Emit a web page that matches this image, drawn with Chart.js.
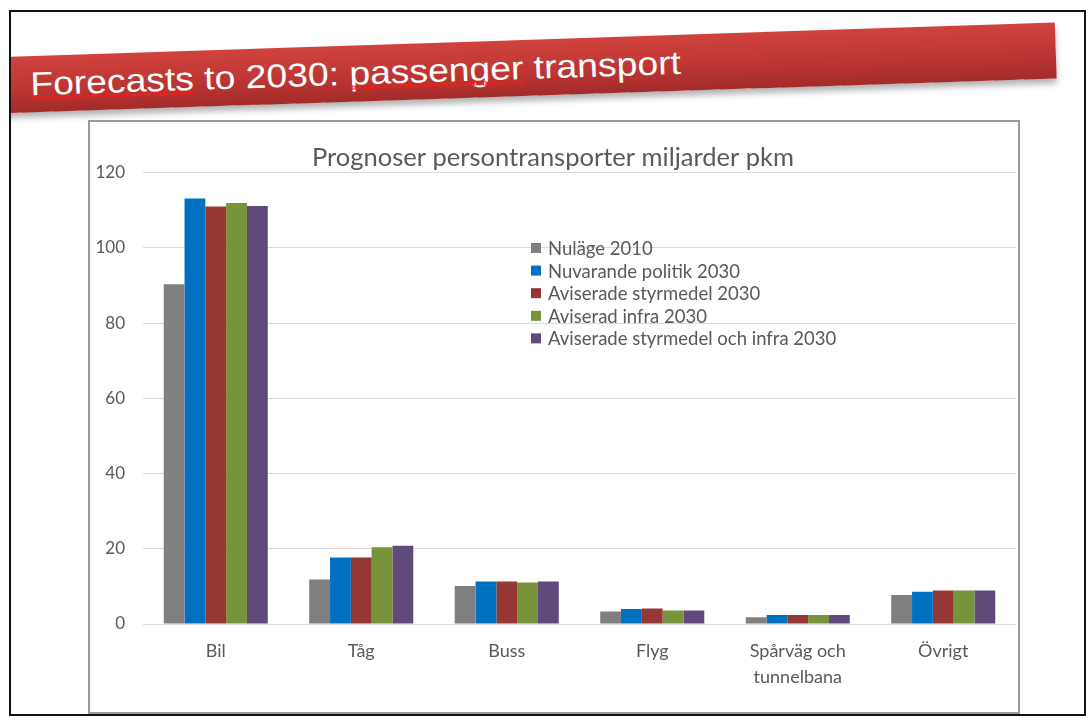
<!DOCTYPE html>
<html>
<head>
<meta charset="utf-8">
<title>Forecasts to 2030: passenger transport</title>
<script src="https://cdn.jsdelivr.net/npm/chart.js@4.4.1/dist/chart.umd.min.js"></script>
<style>
  body { margin: 0; width: 1088px; height: 720px; background: #fff; position: relative; overflow: hidden; }
  #frame { position: absolute; left: 9px; top: 10px; width: 1077px; height: 706px; border: 2px solid #111; box-sizing: border-box; overflow: hidden; background: #fff; }
  #banner { position: absolute; left: -21px; top: 28px; width: 1066px; height: 56px; transform: rotate(-1.887deg);
    background: linear-gradient(#d0423e, #bd3634 55%, #a32b2a); box-shadow: 0 5px 6px rgba(0,0,0,0.3); }
  #banner span.t { position: absolute; left: 40px; top: 11px; font-family: "Liberation Sans", Arial, sans-serif; font-size: 33px; line-height: 33px;
    color: #fff; white-space: nowrap; transform: scaleX(1.13); transform-origin: left top; }
  /* red spell-check squiggle */
  .sp { position: relative; }
  .sp::after { content: ""; position: absolute; left: 0; right: 0; top: 31px; height: 4px;
    background-image: linear-gradient(135deg, transparent 40%, #e3231f 40%, #e3231f 60%, transparent 60%),
                      linear-gradient(45deg, transparent 40%, #e3231f 40%, #e3231f 60%, transparent 60%);
    background-size: 4px 4px; background-repeat: repeat-x; }
  #chartBox { position: absolute; left: 77px; top: 108px; width: 932px; height: 594px; border: 2px solid #999; box-sizing: border-box; background: #fff; }
  #myChart { position: absolute; left: 0; top: 0; }
</style>
</head>
<body>
<div id="frame">
  <div id="banner"><span class="t"><span class="sp">Forecasts</span> to 2030: <span class="sp">passenger</span> transport</span></div>
  <div id="chartBox"><canvas id="myChart" width="928" height="590"></canvas></div>
</div>
<script>
// data
var categories = ['Bil', 'Tåg', 'Buss', 'Flyg', ['Spårväg och', 'tunnelbana'], 'Övrigt'];
var nulage2010 = [90.3, 11.8, 10.1, 3.3, 1.8, 7.7];
var nuvarandePolitik2030 = [113.1, 17.7, 11.3, 4.0, 2.4, 8.6];
var aviseradeStyrmedel2030 = [111.0, 17.7, 11.3, 4.1, 2.4, 8.9];
var aviseradInfra2030 = [111.9, 20.4, 11.0, 3.6, 2.4, 8.9];
var aviseradeStyrmedelInfra2030 = [111.1, 20.8, 11.3, 3.6, 2.4, 8.9];
var yTicks = [0, 20, 40, 60, 80, 100, 120];

var textColor = '#595959';
var fontName = 'Lato, "Open Sans", sans-serif';

// setup
const data = {
  labels: categories,
  datasets: [
    { label: 'Nuläge 2010', data: nulage2010, backgroundColor: '#7f7f7f' },
    { label: 'Nuvarande politik 2030', data: nuvarandePolitik2030, backgroundColor: '#0070c0' },
    { label: 'Aviserade styrmedel 2030', data: aviseradeStyrmedel2030, backgroundColor: '#953735' },
    { label: 'Aviserad infra 2030', data: aviseradInfra2030, backgroundColor: '#77933c' },
    { label: 'Aviserade styrmedel och infra 2030', data: aviseradeStyrmedelInfra2030, backgroundColor: '#604a7b' }
  ]
};
data.datasets.forEach(function(ds){
  ds.barPercentage = 1;
  ds.categoryPercentage = 0.715;
  ds.borderWidth = 0;
});

// legend sits inside the plot, like the excel one
const insideLegend = {
  id: 'insideLegend',
  afterDraw: function(chart){
    var ctx = chart.ctx;
    ctx.save();
    ctx.font = '18.5px ' + fontName;
    ctx.textBaseline = 'middle';
    chart.data.datasets.forEach(function(ds, i){
      var y = 126 + i * 22.6;
      ctx.fillStyle = ds.backgroundColor;
      ctx.fillRect(441, y - 5, 10, 10);
      ctx.fillStyle = textColor;
      ctx.fillText(ds.label, 458, y + 1);
    });
    ctx.restore();
  }
};

// config
const config = {
  type: 'bar',
  data: data,
  options: {
    responsive: false,
    animation: false,
    devicePixelRatio: 1,
    layout: { padding: { left: 0, right: 2, top: 0, bottom: 0 } },
    scales: {
      y: {
        min: 0,
        max: 120,
        afterBuildTicks: function(scale){
          scale.ticks = yTicks.map(function(v){ return { value: v }; });
        },
        afterFit: function(scale){ scale.width = 53; },
        border: { display: false },
        grid: { color: '#d9d9d9', lineWidth: 1, drawTicks: false },
        ticks: { padding: 18, color: textColor, font: { family: fontName, size: 17 } }
      },
      x: {
        afterFit: function(scale){ scale.height = 88; },
        border: { display: false },
        grid: { display: false, drawTicks: false },
        ticks: { padding: 14, color: textColor, font: { family: fontName, size: 18, lineHeight: 1.45 }, maxRotation: 0 }
      }
    },
    plugins: {
      legend: { display: false },
      tooltip: { enabled: false },
      title: {
        display: true,
        text: 'Prognoser persontransporter miljarder pkm',
        color: textColor,
        font: { family: fontName, size: 25.5, weight: 'normal' },
        padding: { top: 20, bottom: 0 }
      }
    }
  },
  plugins: [insideLegend]
};

// render init block
const myChart = new Chart(document.getElementById('myChart'), config);
</script>
</body>
</html>
